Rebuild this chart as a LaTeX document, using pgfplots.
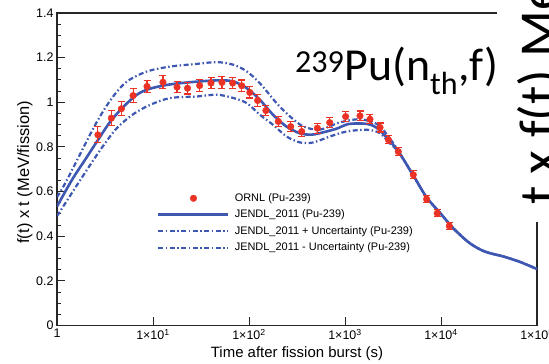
\documentclass[border=0pt]{standalone}
\usepackage{fontspec}
\setmainfont{Liberation Sans}
\newfontfamily\calibri{Carlito}
\usepackage{pgfplots}
\pgfplotsset{compat=1.18}
\definecolor{jblue}{RGB}{62,88,178}
\definecolor{ored}{RGB}{236,50,36}
\begin{document}
\begin{tikzpicture}
\begin{axis}[
  at={(57bp,38.5bp)}, anchor=south west,
  scale only axis, width=480bp, height=312.5bp,
  xmode=log, log basis x=10, xmin=1, xmax=1e5, ymin=0, ymax=1.4,
  xtick={1,10,100,1000,10000,100000},
  xticklabels={1,1×10\textsuperscript{1},1×10\textsuperscript{2},1×10\textsuperscript{3},1×10\textsuperscript{4},1×10\textsuperscript{5}},
  ytick={0,0.2,0.4,0.6,0.8,1,1.2,1.4},
  yticklabels={0,0.2,0.4,0.6,0.8,1,1.2,1.4},
  minor ytick={0.05,0.1,...,1.4},
  xtick pos=left, ytick pos=left, tick align=inside,
  major tick length=8bp, minor tick length=4.5bp,
  tick style={black!85, line width=1bp},
  axis line style={black!85, line width=1.2bp},
  ticklabel style={font=\fontsize{12.5}{14}\selectfont},
  xlabel={Time after fission burst (s)},
  ylabel={f(t) x t (MeV/fission)},
  xlabel style={font=\fontsize{15}{17}\selectfont, at={(axis description cs:0.5,-0.091)}, anchor=center},
  ylabel style={font=\fontsize{16.5}{18}\selectfont, at={(axis description cs:-0.0667,0.49)}, anchor=center},
  legend style={draw=none, fill=none, at={(0.2083,0.424)}, anchor=north west, inner sep=0pt, row sep=6.3bp, column sep=5bp,
    font=\fontsize{11}{12}\selectfont, nodes={inner sep=0pt, text height=8bp, text depth=2.2bp}},
  legend cell align=left,
  legend image code/.code={\draw[mark repeat=2,mark phase=2,#1] plot coordinates {(0bp,0bp) (35bp,0bp) (70bp,0bp)};},
]
\addlegendimage{only marks, mark=*, ored, mark size=3.3bp}
\addlegendentry{ORNL (Pu-239)}
\addlegendimage{jblue, line width=2.6bp}
\addlegendentry{JENDL\_2011 (Pu-239)}
\addlegendimage{jblue, line width=2.2bp, dash pattern=on 5bp off 2.5bp on 1.5bp off 2.5bp}
\addlegendentry{JENDL\_2011 + Uncertainty (Pu-239)}
\addlegendimage{jblue, line width=2.2bp, dash pattern=on 5bp off 2.5bp on 1.5bp off 2.5bp}
\addlegendentry{JENDL\_2011 - Uncertainty (Pu-239)}

% upper uncertainty
\addplot[forget plot, jblue, line width=2.2bp, dash pattern=on 5bp off 2.5bp on 1.5bp off 2.5bp, smooth, tension=0.5] coordinates {
(1,0.575) (1.27,0.652) (2.5,0.899) (3.74,1.019) (5.35,1.093) (8.66,1.138) (15.1,1.16) (28.7,1.172) (46.4,1.18) (69,1.168) (95,1.138) (130,1.085) (194,0.996) (268,0.936) (370,0.891) (550,0.878) (890,0.91) (1450,0.924) (2200,0.9) (2930,0.838) (3600,0.782) (5150,0.672) (7080,0.574) (9850,0.503) (13400,0.436) (19900,0.369) (28700,0.331) (44700,0.309) (65500,0.286) (100000,0.253)};
% lower uncertainty
\addplot[forget plot, jblue, line width=2.2bp, dash pattern=on 5bp off 2.5bp on 1.5bp off 2.5bp, smooth, tension=0.5] coordinates {
(1,0.49) (1.75,0.652) (2.83,0.787) (4.2,0.884) (6.3,0.948) (9.4,0.989) (15.1,1.019) (28.7,1.026) (46.4,1.034) (69,1.019) (95,0.996) (130,0.944) (178,0.899) (246,0.847) (340,0.82) (465,0.82) (700,0.847) (1040,0.869) (1690,0.877) (2300,0.862) (2930,0.816) (3600,0.778) (5150,0.672) (7080,0.574) (9850,0.503) (13400,0.436) (19900,0.369) (28700,0.331) (44700,0.309) (65500,0.286) (100000,0.253)};
% JENDL
\addplot[forget plot, jblue, line width=2.6bp, smooth, tension=0.5] coordinates {
(1,0.533) (1.43,0.652) (2.0,0.748) (2.67,0.831) (3.6,0.914) (4.95,0.981) (6.8,1.034) (9.0,1.059) (14,1.078) (24.5,1.09) (46,1.098) (68,1.094) (95,1.063) (130,1.011) (178,0.944) (246,0.891) (340,0.861) (450,0.855) (600,0.866) (820,0.882) (1100,0.903) (1700,0.903) (2200,0.882) (2930,0.826) (3600,0.78) (5150,0.672) (7080,0.574) (9850,0.503) (13400,0.436) (19900,0.369) (28700,0.331) (44700,0.309) (65500,0.286) (100000,0.253)};
% ORNL
\addplot[forget plot, only marks, mark=*, mark size=3.3bp, ored,
  error bars/.cd, y dir=both, y explicit,
  error bar style={ored, line width=1.1bp},
  error mark options={rotate=90, mark size=3.5bp, ored, line width=1.1bp}]
coordinates {
(2.67,0.854) +- (0,0.036)
(3.68,0.929) +- (0,0.034)
(4.68,0.971) +- (0,0.032)
(6.2,1.030) +- (0,0.03)
(8.66,1.071) +- (0,0.028)
(12.7,1.09) +- (0,0.028)
(17.8,1.068) +- (0,0.026)
(22.9,1.063) +- (0,0.026)
(30.6,1.075) +- (0,0.026)
(40.2,1.086) +- (0,0.026)
(52.3,1.089) +- (0,0.026)
(67.6,1.086) +- (0,0.026)
(84,1.074) +- (0,0.026)
(102,1.044) +- (0,0.025)
(123,1.008) +- (0,0.025)
(150,0.963) +- (0,0.024)
(202,0.914) +- (0,0.022)
(272,0.891) +- (0,0.022)
(354,0.869) +- (0,0.022)
(515,0.884) +- (0,0.022)
(693,0.909) +- (0,0.022)
(1016,0.936) +- (0,0.022)
(1433,0.939) +- (0,0.022)
(1820,0.924) +- (0,0.02)
(2316,0.887) +- (0,0.02)
(2830,0.832) +- (0,0.018)
(3590,0.779) +- (0,0.018)
(5145,0.675) +- (0,0.018)
(7080,0.566) +- (0,0.016)
(9130,0.503) +- (0,0.016)
(12200,0.446) +- (0,0.016)
};
\end{axis}
\fill[white] (497bp,142bp) rectangle (560bp,370bp);
\node[font=\calibri\fontsize{46}{52}\selectfont, anchor=base west, inner sep=0pt] at (295bp,283bp) {\textsuperscript{239}Pu(n\textsubscript{th},f)};
\node[font=\calibri\fontsize{55}{60}\selectfont, rotate=90, anchor=base west, inner sep=0pt] at (557bp,159bp) {t x f(t) MeV/fission)};
\pgfresetboundingbox
\path[use as bounding box] (0,0) rectangle (549bp,364bp);
\end{tikzpicture}
\end{document}
